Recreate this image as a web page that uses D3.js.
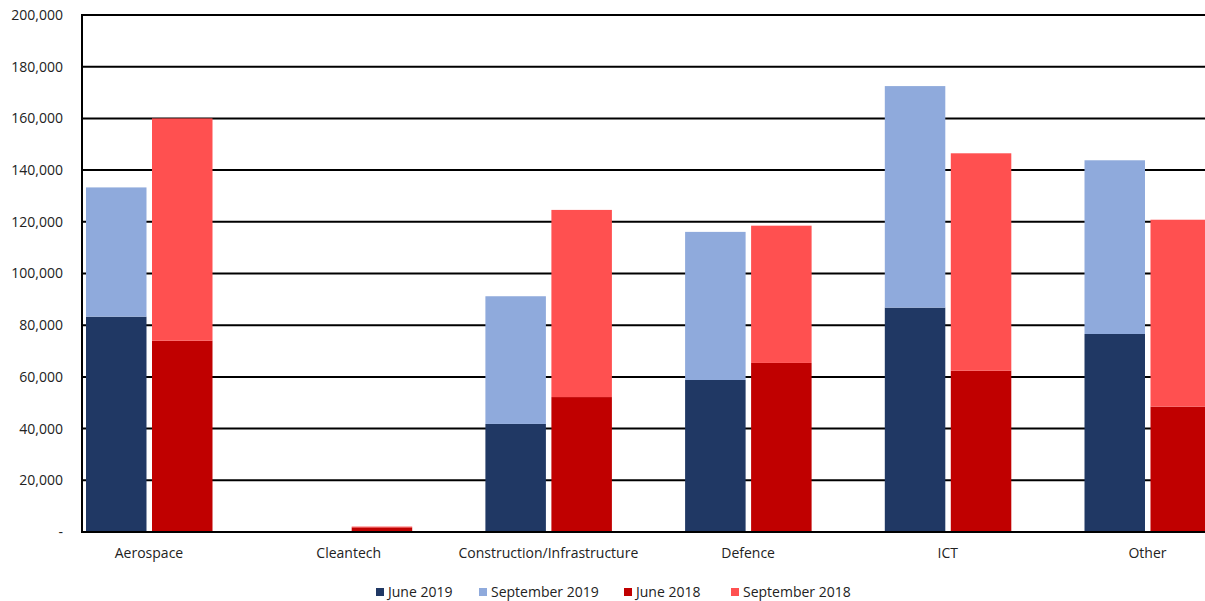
<!DOCTYPE html>
<html>
<head>
<meta charset="utf-8">
<script src="https://cdn.jsdelivr.net/npm/d3@7"></script>
<style>
  body { margin: 0; background: #fff; }
  svg { display: block; }
  text { font-family: "Open Sans", "Noto Sans", sans-serif; fill: #222; }
</style>
</head>
<body>
<svg id="chart" width="1205" height="601"></svg>
<script>
const categories = ["Aerospace", "Cleantech", "Construction/Infrastructure", "Defence", "ICT", "Other"];
const june2019 = [83300, 0, 41800, 58800, 86800, 76600];
const sep2019  = [50000, 0, 49400, 57300, 85700, 67200];
const june2018 = [74000, 1800, 52200, 65400, 62400, 48500];
const sep2018  = [86000, 300, 72400, 53100, 84100, 72300];
const yTicks = [0, 20000, 40000, 60000, 80000, 100000, 120000, 140000, 160000, 180000, 200000];
const seriesNames = ["June 2019", "September 2019", "June 2018", "September 2018"];
const seriesColors = ["#203864", "#8FAADC", "#C00000", "#FF5050"];

const svg = d3.select("#chart");
const plotLeft = 82, plotTop = 15, plotBottom = 532, bandW = 199.7;

const x = d3.scaleBand().domain(categories).range([plotLeft, plotLeft + bandW * categories.length]).padding(0);
const y = d3.scaleLinear().domain([0, 200000]).range([plotBottom, plotTop]);

// gridlines
svg.append("g").selectAll("line").data(yTicks.filter(d => d > 0)).join("line")
  .attr("x1", plotLeft).attr("x2", 1205)
  .attr("y1", d => y(d)).attr("y2", d => y(d))
  .attr("stroke", "#000").attr("stroke-width", 2);

// y labels
svg.append("g").selectAll("text").data(yTicks).join("text")
  .attr("x", 63).attr("y", d => y(d)).attr("dy", "0.35em")
  .attr("text-anchor", "end").attr("font-size", 14)
  .text(d => d === 0 ? "-" : d3.format(",")(d));

// bars
const groups = [
  { offset: 4, parts: [june2019, sep2019], colors: [seriesColors[0], seriesColors[1]] },
  { offset: 70, parts: [june2018, sep2018], colors: [seriesColors[2], seriesColors[3]] }
];
const barW = 60.5;
const barsG = svg.append("g");
groups.forEach(g => {
  categories.forEach((c, i) => {
    let base = 0;
    g.parts.forEach((arr, k) => {
      const v = arr[i];
      if (v > 0) {
        barsG.append("rect")
          .attr("x", x(c) + g.offset)
          .attr("width", barW)
          .attr("y", y(base + v))
          .attr("height", y(base) - y(base + v))
          .attr("fill", g.colors[k]);
      }
      base += v;
    });
  });
});

// axis lines
svg.append("line").attr("x1", plotLeft).attr("x2", plotLeft).attr("y1", plotTop - 1).attr("y2", plotBottom + 1)
  .attr("stroke", "#000").attr("stroke-width", 2);
svg.append("line").attr("x1", plotLeft).attr("x2", 1205).attr("y1", plotBottom).attr("y2", plotBottom)
  .attr("stroke", "#000").attr("stroke-width", 2);

// category labels
svg.append("g").selectAll("text").data(categories).join("text")
  .attr("x", d => x(d) + 67).attr("y", 558)
  .attr("text-anchor", "middle").attr("font-size", 14)
  .text(d => d);

// legend
const legendX = [376, 479, 624, 731];
const lg = svg.append("g").selectAll("g").data(seriesNames).join("g")
  .attr("transform", (d, i) => `translate(${legendX[i]},592)`);
lg.append("rect").attr("x", 0).attr("y", -4).attr("width", 8).attr("height", 8)
  .attr("fill", (d, i) => seriesColors[i]);
lg.append("text").attr("x", 12).attr("y", 0).attr("dy", "0.35em")
  .attr("font-size", 14).text(d => d);
</script>
</body>
</html>
